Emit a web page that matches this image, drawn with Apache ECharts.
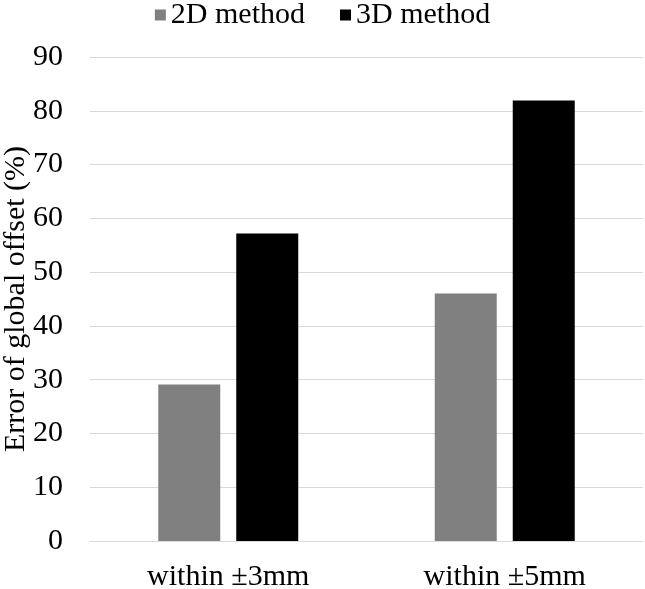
<!DOCTYPE html>
<html>
<head>
<meta charset="utf-8">
<script src="https://cdn.jsdelivr.net/npm/echarts@6/dist/echarts.min.js"></script>
<style>html,body{margin:0;padding:0;background:#fff;}#c{width:645px;height:589px;}</style>
</head>
<body>
<div id="c"></div>
<script>
var categories = ['within \u00b13mm', 'within \u00b15mm'];
var series2D = [29.1, 46.0];
var series3D = [57.2, 81.9];
var seriesNames = ['2D method', '3D method'];
var yTicks = {min: 0, max: 90, interval: 10};

var font = 'Liberation Serif';
var chart = echarts.init(document.getElementById('c'));
chart.setOption({
  backgroundColor: '#fff',
  animation: false,
  textStyle: {fontFamily: font, color: '#000'},
  legend: {
    top: -5,
    left: 'center',
    icon: 'rect',
    itemWidth: 11,
    itemHeight: 11,
    itemGap: 35,
    textStyle: {fontFamily: font, fontSize: 30, color: '#000'},
    data: seriesNames
  },
  grid: {left: 90, right: 2, top: 57, bottom: 48, containLabel: false, outerBoundsMode: 'none'},
  xAxis: {
    type: 'category',
    data: categories,
    axisLine: {show: true, lineStyle: {color: '#d9d9d9', width: 1}},
    axisTick: {show: false},
    axisLabel: {fontFamily: font, fontSize: 30, color: '#000', margin: 21}
  },
  yAxis: {
    type: 'value',
    min: yTicks.min, max: yTicks.max, interval: yTicks.interval,
    name: 'Error of global offset (%)',
    nameLocation: 'middle',
    nameGap: 59,
    nameRotate: 90,
    nameMoveOverlap: false,
    nameTextStyle: {fontFamily: font, fontSize: 30, color: '#000'},
    axisLine: {show: false},
    axisTick: {show: false},
    axisLabel: {fontFamily: font, fontSize: 30, color: '#000', margin: 27},
    splitLine: {lineStyle: {color: '#d9d9d9', width: 1}}
  },
  series: [
    {name: seriesNames[0], type: 'bar', data: series2D, barWidth: 62, barGap: '25.8%',
     itemStyle: {color: '#808080'}},
    {name: seriesNames[1], type: 'bar', data: series3D, barWidth: 62,
     itemStyle: {color: '#000000'}}
  ]
});
</script>
</body>
</html>
